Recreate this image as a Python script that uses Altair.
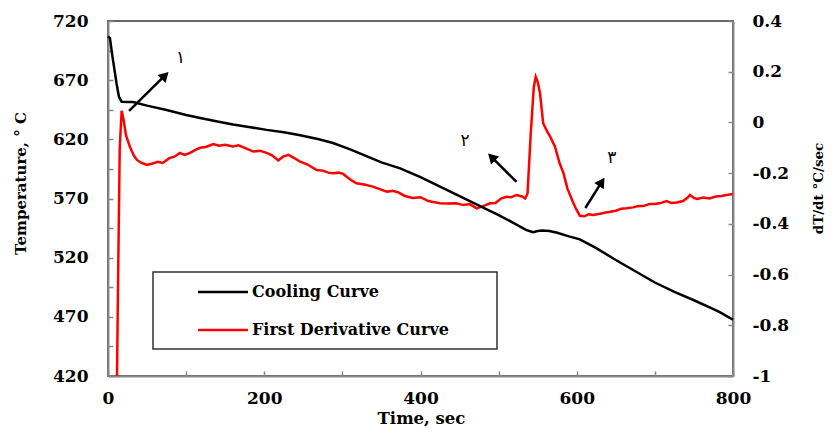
import altair as alt
import pandas as pd

# ---------------- data ----------------
time_cool = [0, 2.5, 5, 8, 11, 14, 17.5, 25, 32, 50, 75, 100, 118, 140, 160, 180, 203, 225,
             246, 270, 288, 310, 330, 350, 374, 400, 425, 450, 475, 500, 520, 535, 544, 550,
             556, 565, 575, 590, 604, 625, 650, 675, 700, 725, 750, 775, 783, 800]
temp_cool = [707, 705.6, 693, 680, 667, 656, 651.8, 651.5, 651.5, 648.5, 644.8, 640.5, 638, 635,
             632.5, 630.5, 628, 626, 623.5, 620, 616.9, 611.5, 606, 600.5, 595.5, 588, 580, 572,
             564, 556, 549, 543.5, 541.5, 542.5, 543, 542.5, 541, 538, 535.5, 528, 518, 508.5,
             499, 491, 484, 476.5, 474, 467.5]

time_deriv = [11.5, 13, 15, 17.5, 20, 23, 28, 33, 37, 43, 50, 57, 64, 70, 79, 85, 92, 98, 105,
              112, 118, 125, 135, 142, 150, 160, 167, 175, 186, 195, 203, 210, 218, 224, 231,
              238, 246, 255, 267, 275, 282, 288, 295, 301, 310, 318, 328, 339, 347, 357, 364,
              371, 380, 390, 400, 410, 418, 425, 435, 446, 455, 463, 472, 480, 489, 496, 503,
              510, 516, 523, 530, 534, 537, 541, 545, 547.5, 550, 553, 557, 562, 566, 572, 578,
              583, 588, 594, 599, 604, 610, 615, 621, 630, 637, 643, 650, 657, 664, 672, 679,
              685, 693, 700, 707, 715, 721, 728, 736, 742, 745, 750, 754, 762, 770, 778, 785,
              792, 800]
rate_deriv = [-1.0, -0.6, -0.1, 0.046, 0.01, -0.05, -0.096, -0.13, -0.148, -0.16, -0.168, -0.162,
              -0.155, -0.16, -0.14, -0.135, -0.12, -0.128, -0.12, -0.108, -0.1, -0.097, -0.085,
              -0.092, -0.088, -0.095, -0.09, -0.1, -0.115, -0.112, -0.12, -0.13, -0.15, -0.135,
              -0.128, -0.14, -0.155, -0.165, -0.188, -0.19, -0.198, -0.2, -0.198, -0.203, -0.225,
              -0.24, -0.245, -0.253, -0.262, -0.273, -0.27, -0.275, -0.29, -0.298, -0.295, -0.31,
              -0.315, -0.319, -0.32, -0.319, -0.326, -0.322, -0.339, -0.33, -0.319, -0.318, -0.3,
              -0.293, -0.295, -0.286, -0.292, -0.3, -0.28, -0.05, 0.14, 0.18, 0.16, 0.115,
              -0.003, -0.035, -0.056, -0.095, -0.16, -0.2, -0.26, -0.306, -0.34, -0.368, -0.37,
              -0.362, -0.365, -0.36, -0.355, -0.352, -0.348, -0.34, -0.338, -0.335, -0.33, -0.33,
              -0.322, -0.322, -0.318, -0.31, -0.318, -0.316, -0.31, -0.296, -0.286, -0.298,
              -0.302, -0.296, -0.3, -0.292, -0.29, -0.286, -0.282]

# annotation arrows (start -> end, in time / temperature units) and their head angles
arrow_t0 = [27, 523, 611]
arrow_T0 = [644, 584, 562]
arrow_t1 = [73, 491, 632]
arrow_T1 = [674, 605, 584]
arrow_angle = [45, 315, 33]

# annotation numerals
num_text = ["١", "٢", "٣"]
num_t = [93, 457, 645]
num_T = [689, 619, 604]

series_names = ["Cooling Curve", "First Derivative Curve"]
series_colors = ["black", "red"]

x_ticks = [0, 100, 200, 300, 400, 500, 600, 700, 800]
left_ticks = list(range(420, 721, 25))
right_ticks = [-1, -0.8, -0.6, -0.4, -0.2, 0, 0.2, 0.4]

# ---------------- frames ----------------
cool_df = pd.DataFrame({"t": time_cool, "T": temp_cool})
der_df = pd.DataFrame({"t": time_deriv, "v": rate_deriv})
arrow_df = pd.DataFrame({"t": arrow_t0, "T": arrow_T0, "t1": arrow_t1, "T1": arrow_T1,
                         "ang": arrow_angle})
num_df = pd.DataFrame({"t": num_t, "T": num_T, "lab": num_text})
one = pd.DataFrame({"k": [0]})

FONT = "DejaVu Serif"

x_axis = alt.Axis(values=x_ticks, labelExpr="datum.value % 200 == 0 ? datum.label : ''",
                  title="Time, sec", titleFont=FONT, titleFontSize=16.5, titleFontWeight="bold",
                  titleX=313, titleY=42, titleBaseline="middle", labelFlush=False,
                  labelFont=FONT, labelFontSize=17, labelFontWeight="bold", labelColor="black",
                  labelPadding=19, tickSize={"expr": "-5"}, tickColor="#888", tickWidth=1.5,
                  domainColor="#888", domainWidth=2, grid=False)
x_scale = alt.Scale(domain=[0, 800], nice=False, zero=False)
x_enc = alt.X("t:Q", scale=x_scale, axis=x_axis)

y_left_scale = alt.Scale(domain=[420, 720], nice=False, zero=False)
y_left_axis = alt.Axis(values=left_ticks, labelExpr="datum.value % 50 == 20 ? datum.label : ''",
                       title="Temperature, ° C", titleFont=FONT, titleFontSize=15,
                       titleFontWeight="bold", titleAngle=270, titleX=-88, titleY=162,
                       titleBaseline="middle", titleAlign="center",
                       labelFont=FONT, labelFontSize=17, labelFontWeight="bold",
                       labelColor="black", labelPadding=25, tickSize={"expr": "-5"},
                       tickColor="#888", tickWidth=1.5, domainColor="#888", domainWidth=2,
                       grid=False)

y_right_axis = alt.Axis(values=right_ticks, orient="right",
                        labelExpr="(datum.value < -0.001 ? '-' : '') + format(abs(datum.value), '.1~f')",
                        title="dT/dt °C/sec", titleFont=FONT, titleFontSize=13.5,
                        titleFontWeight="bold", titleAngle=270, titleX=85, titleY=167,
                        titleBaseline="middle", titleAlign="center",
                        labelFont=FONT, labelFontSize=17, labelFontWeight="bold",
                        labelColor="black", labelPadding=24, tickSize={"expr": "-5"},
                        tickColor="#888", tickWidth=1.5, domainColor="#888", domainWidth=2,
                        grid=False)

cool_line = alt.Chart(cool_df).mark_line(color=series_colors[0], strokeWidth=2.5).encode(
    x=x_enc, y=alt.Y("T:Q", scale=y_left_scale, axis=y_left_axis))

arrows = alt.Chart(arrow_df).mark_rule(color="black", strokeWidth=2.5).encode(
    x=x_enc, y=alt.Y("T:Q", scale=y_left_scale, axis=y_left_axis), x2="t1:Q", y2="T1:Q")

heads = alt.Chart(arrow_df).mark_point(shape="triangle-up", filled=True, color="black",
                                       size=130, opacity=1).encode(
    x=alt.X("t1:Q", scale=x_scale, axis=x_axis),
    y=alt.Y("T1:Q", scale=y_left_scale, axis=y_left_axis),
    angle=alt.Angle("ang:Q", scale=None))

nums = alt.Chart(num_df).mark_text(font="DejaVu Sans", fontSize=17, color="black").encode(
    x=x_enc, y=alt.Y("T:Q", scale=y_left_scale, axis=y_left_axis), text="lab:N")

legend_box = alt.Chart(one).mark_rect(fill="white", stroke="#333", strokeWidth=1.5).encode(
    x=alt.value(45), x2=alt.value(389), y=alt.value(251), y2=alt.value(328))
leg_line1 = alt.Chart(one).mark_rule(color=series_colors[0], strokeWidth=2.5).encode(
    x=alt.value(90), x2=alt.value(140), y=alt.value(271))
leg_line2 = alt.Chart(one).mark_rule(color=series_colors[1], strokeWidth=2.5).encode(
    x=alt.value(90), x2=alt.value(140), y=alt.value(309))
leg_text1 = alt.Chart(one).mark_text(font=FONT, fontSize=16, fontWeight="bold", align="left",
                                     baseline="middle", color="black",
                                     text=series_names[0]).encode(
    x=alt.value(144), y=alt.value(271))
leg_text2 = alt.Chart(one).mark_text(font=FONT, fontSize=16, fontWeight="bold", align="left",
                                     baseline="middle", color="black",
                                     text=series_names[1]).encode(
    x=alt.value(144), y=alt.value(309))

left_group = alt.layer(cool_line, arrows, heads, nums, legend_box, leg_line1, leg_line2,
                       leg_text1, leg_text2)

der_line = alt.Chart(der_df).mark_line(color=series_colors[1], strokeWidth=2.5, clip=True).encode(
    x=x_enc,
    y=alt.Y("v:Q", scale=alt.Scale(domain=[-1, 0.4], nice=False, zero=False), axis=y_right_axis))

chart = alt.layer(der_line, left_group).resolve_scale(y="independent").properties(
    width=625, height=355,
    autosize=alt.AutoSizeParams(type="none"),
    padding={"left": 100, "top": 13, "right": 93, "bottom": 53},
).configure_view(stroke="#666", strokeWidth=2)

chart.save("out.html", embed_options={"renderer": "svg", "actions": False})
